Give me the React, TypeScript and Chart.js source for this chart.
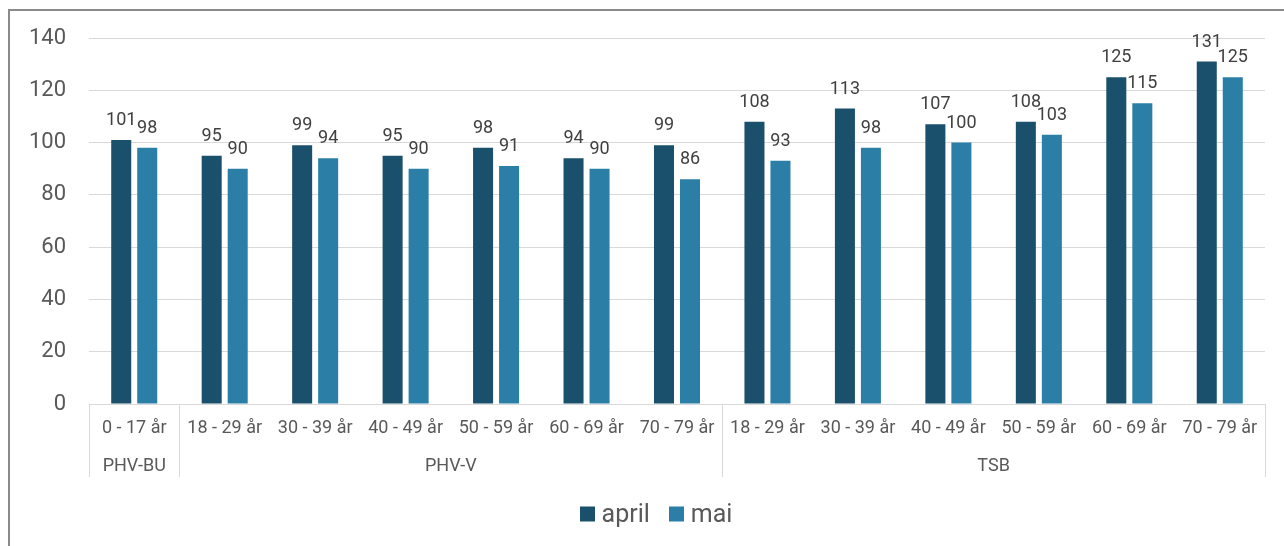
import React, { useEffect, useRef } from "react";
import { Chart, registerables } from "chart.js";

Chart.register(...registerables);

const categories = [
  "0 - 17 år",
  "18 - 29 år",
  "30 - 39 år",
  "40 - 49 år",
  "50 - 59 år",
  "60 - 69 år",
  "70 - 79 år",
  "18 - 29 år",
  "30 - 39 år",
  "40 - 49 år",
  "50 - 59 år",
  "60 - 69 år",
  "70 - 79 år",
];

const groupLabels = ["PHV-BU", "PHV-V", "TSB"];
const groupStarts = [0, 1, 7];
const groupEnds = [0, 6, 12];

const aprilValues = [101, 95, 99, 95, 98, 94, 99, 108, 113, 107, 108, 125, 131];
const maiValues = [98, 90, 94, 90, 91, 90, 86, 93, 98, 100, 103, 115, 125];

const seriesNames = ["april", "mai"];
const seriesColors = ["#1a506b", "#2b7fa7"];
const yMax = 140;
const yStep = 20;

const FONT = "Roboto";
const TEXT = "#595959";
const GRID = "#d9d9d9";

const dataLabelPlugin = {
  id: "dataLabels",
  afterDatasetsDraw(chart: any) {
    const ctx = chart.ctx;
    ctx.save();
    ctx.font = `18px ${FONT}`;
    ctx.fillStyle = "#404040";
    ctx.textAlign = "center";
    ctx.textBaseline = "alphabetic";
    chart.data.datasets.forEach((ds: any, i: number) => {
      const meta = chart.getDatasetMeta(i);
      meta.data.forEach((el: any, j: number) => {
        ctx.fillText(String(ds.data[j]), el.x, el.y - 15);
      });
    });
    ctx.restore();
  },
};

const groupAxisPlugin = {
  id: "groupAxis",
  afterDraw(chart: any) {
    const ctx = chart.ctx;
    const xs = chart.scales.x;
    const bottom = chart.chartArea.bottom;
    const n = categories.length;
    const catW = (xs.right - xs.left) / n;
    ctx.save();
    ctx.strokeStyle = GRID;
    ctx.lineWidth = 1;
    const bounds: number[] = [];
    groupStarts.forEach((s) => bounds.push(xs.getPixelForValue(s) - catW / 2));
    bounds.push(xs.getPixelForValue(groupEnds[groupEnds.length - 1]) + catW / 2);
    bounds.forEach((bx) => {
      const px = Math.round(bx) + 0.5;
      ctx.beginPath();
      ctx.moveTo(px, bottom);
      ctx.lineTo(px, bottom + 73);
      ctx.stroke();
    });
    ctx.font = `18px ${FONT}`;
    ctx.fillStyle = TEXT;
    ctx.textAlign = "center";
    ctx.textBaseline = "middle";
    groupLabels.forEach((g, i) => {
      const l = xs.getPixelForValue(groupStarts[i]) - catW / 2;
      const r = xs.getPixelForValue(groupEnds[i]) + catW / 2;
      ctx.fillText(g, (l + r) / 2, bottom + 62);
    });

    // legend
    ctx.font = `25px ${FONT}`;
    ctx.textAlign = "left";
    ctx.textBaseline = "alphabetic";
    const box = 15;
    const gap = 7;
    const itemGap = 19;
    const widths = seriesNames.map((s) => box + gap + ctx.measureText(s).width);
    const total = widths.reduce((a, b) => a + b, 0) + itemGap * (seriesNames.length - 1);
    let x = (chart.width + 28) / 2 - total / 2;
    const cy = chart.height - 32;
    seriesNames.forEach((s, i) => {
      ctx.fillStyle = seriesColors[i];
      ctx.fillRect(Math.round(x), cy - box / 2, box, box);
      ctx.fillStyle = TEXT;
      ctx.fillText(s, x + box + gap, cy + 8);
      x += widths[i] + itemGap;
    });
    ctx.restore();
  },
};

export default function App() {
  const ref = useRef<HTMLCanvasElement>(null);

  useEffect(() => {
    if (!ref.current) return;
    const chart = new Chart(ref.current, {
      type: "bar",
      data: {
        labels: categories,
        datasets: [
          {
            label: seriesNames[0],
            data: aprilValues,
            backgroundColor: seriesColors[0],
            borderWidth: 0,
            categoryPercentage: 0.575,
            barPercentage: 0.77,
          },
          {
            label: seriesNames[1],
            data: maiValues,
            backgroundColor: seriesColors[1],
            borderWidth: 0,
            categoryPercentage: 0.575,
            barPercentage: 0.77,
          },
        ],
      },
      options: {
        animation: false,
        responsive: false,
        devicePixelRatio: 1,
        layout: { padding: { left: 0, right: 19, top: 38, bottom: 58 } },
        plugins: {
          legend: { display: false },
          tooltip: { enabled: false },
        },
        scales: {
          x: {
            grid: { display: false, drawTicks: false },
            border: { display: true, color: GRID, width: 1 },
            ticks: {
              color: TEXT,
              font: { family: FONT, size: 18 },
              padding: 14,
              maxRotation: 0,
              autoSkip: false,
            },
            afterFit(scale: any) {
              scale.height = 84;
            },
          },
          y: {
            min: 0,
            max: yMax,
            ticks: {
              stepSize: yStep,
              color: TEXT,
              font: { family: FONT, size: 22 },
              padding: 23,
            },
            grid: { color: GRID, drawTicks: false, lineWidth: 1 },
            border: { display: false },
            afterFit(scale: any) {
              scale.width = 89;
            },
          },
        },
      },
      plugins: [dataLabelPlugin, groupAxisPlugin],
    });
    return () => chart.destroy();
  }, []);

  return (
    <div style={{ position: "absolute", left: 0, top: 0, width: 1284, height: 546, overflow: "hidden", background: "#fff" }}>
      <div
        style={{
          position: "absolute",
          left: 8,
          top: 9,
          width: 1300,
          height: 600,
          border: "2px solid #8a8a8a",
        }}
      />
      <canvas ref={ref} width={1284} height={546} style={{ position: "absolute", left: 0, top: 0 }} />
    </div>
  );
}
